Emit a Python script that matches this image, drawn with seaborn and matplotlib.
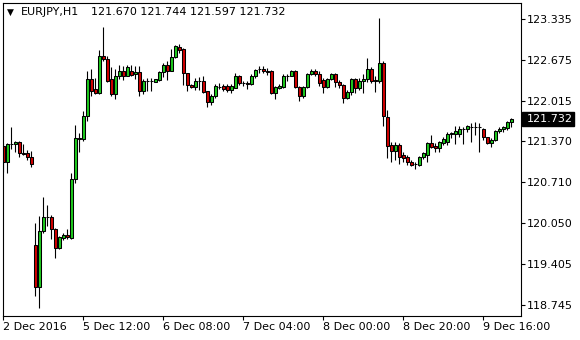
import numpy as np
import pandas as pd
import matplotlib
matplotlib.use("Agg")
import matplotlib.pyplot as plt
import seaborn as sns
from matplotlib.patches import Rectangle
from matplotlib.transforms import blended_transform_factory

# ---------------- data (EURJPY, H1) ----------------
symbol = "EURJPY,H1"
header_values = "121.670 121.744 121.597 121.732"

opens = [121.29, 121.04, 121.32, 121.32, 121.35, 121.18, 121.18, 121.12,
         119.70, 119.03, 119.93, 120.16, 120.15, 119.96, 119.66, 119.81,
         119.87, 119.81, 120.77, 121.42, 121.41, 121.78, 122.36, 122.21,
         122.14, 122.74, 122.69, 122.36, 122.12, 122.41, 122.50, 122.42,
         122.50, 122.44, 122.48, 122.17, 122.335, 122.335, 122.32, 122.35,
         122.48, 122.59, 122.50, 122.72, 122.88, 122.85, 122.46, 122.27,
         122.24, 122.335, 122.34, 122.17, 122.00, 122.10, 122.245, 122.26,
         122.25, 122.19, 122.23, 122.42, 122.30, 122.30, 122.29, 122.42,
         122.52, 122.53, 122.50, 122.49, 122.15, 122.23, 122.24, 122.42,
         122.42, 122.50, 122.24, 122.09, 122.24, 122.45, 122.50, 122.44,
         122.35, 122.24, 122.37, 122.44, 122.32, 122.27, 122.07, 122.16,
         122.36, 122.23, 122.34, 122.37, 122.52, 122.345, 122.34, 122.62,
         121.76, 121.31, 121.22, 121.31, 121.14, 121.11, 121.03, 121.00,
         120.99, 121.11, 121.14, 121.34, 121.30, 121.26, 121.34, 121.35,
         121.48, 121.48, 121.49, 121.565, 121.56, 121.59, 121.59, 121.59,
         121.57, 121.43, 121.34, 121.39, 121.53, 121.56, 121.58, 121.670]
highs = [121.34, 121.34, 121.60, 121.38, 121.38, 121.32, 121.23, 121.21,
         120.06, 120.17, 120.48, 120.35, 120.19, 119.97, 119.84, 119.89,
         119.96, 120.86, 121.63, 121.50, 121.86, 122.49, 122.53, 122.38,
         122.83, 123.21, 122.73, 122.56, 122.52, 122.60, 122.58, 122.59,
         122.59, 122.58, 122.58, 122.36, 122.39, 122.39, 122.37, 122.50,
         122.63, 122.65, 122.85, 122.91, 122.93, 122.86, 122.47, 122.29,
         122.39, 122.40, 122.41, 122.18, 122.12, 122.28, 122.30, 122.28,
         122.28, 122.28, 122.46, 122.43, 122.34, 122.33, 122.44, 122.53,
         122.58, 122.58, 122.55, 122.51, 122.26, 122.28, 122.44, 122.44,
         122.51, 122.51, 122.25, 122.26, 122.46, 122.52, 122.52, 122.50,
         122.38, 122.39, 122.46, 122.46, 122.35, 122.29, 122.19, 122.38,
         122.39, 122.38, 122.44, 122.70, 122.56, 122.41, 123.34, 122.65,
         121.87, 121.35, 121.35, 121.34, 121.20, 121.14, 121.07, 121.04,
         121.13, 121.19, 121.35, 121.47, 121.34, 121.37, 121.44, 121.51,
         121.51, 121.61, 121.61, 121.59, 121.63, 121.66, 121.67, 121.66,
         121.58, 121.44, 121.42, 121.55, 121.60, 121.61, 121.69, 121.744]
lows = [120.88, 120.86, 121.25, 121.20, 121.12, 121.14, 121.07, 120.96,
        118.89, 118.70, 119.89, 120.01, 119.80, 119.49, 119.64, 119.78,
        119.80, 119.80, 120.70, 121.19, 121.38, 121.70, 122.09, 122.13,
        122.13, 122.66, 122.32, 122.09, 122.04, 122.36, 122.35, 122.41,
        122.42, 122.36, 122.10, 122.12, 122.18, 122.18, 122.32, 122.34,
        122.40, 122.35, 122.49, 122.70, 122.78, 122.27, 122.17, 122.22,
        122.19, 122.19, 122.14, 121.92, 121.95, 122.07, 122.21, 122.18,
        122.16, 122.14, 122.22, 122.27, 122.26, 122.20, 122.27, 122.39,
        122.46, 122.46, 122.43, 122.12, 122.04, 122.20, 122.22, 122.34,
        122.41, 122.22, 122.02, 122.07, 122.22, 122.43, 122.42, 122.26,
        122.15, 122.22, 122.35, 122.24, 122.22, 121.99, 122.04, 122.11,
        122.14, 122.19, 122.15, 122.32, 122.30, 122.16, 122.30, 121.62,
        121.10, 121.04, 121.07, 121.01, 121.04, 120.99, 120.97, 120.92,
        120.97, 121.08, 121.03, 121.26, 121.20, 121.20, 121.31, 121.31,
        121.42, 121.32, 121.44, 121.32, 121.51, 121.36, 121.47, 121.19,
        121.39, 121.32, 121.27, 121.38, 121.50, 121.51, 121.55, 121.597]
closes = [121.04, 121.32, 121.33, 121.36, 121.18, 121.17, 121.11, 121.00,
          119.03, 119.93, 120.16, 120.15, 119.96, 119.66, 119.83, 119.86,
          119.83, 120.77, 121.42, 121.41, 121.78, 122.36, 122.18, 122.14,
          122.74, 122.69, 122.34, 122.12, 122.41, 122.50, 122.42, 122.56,
          122.43, 122.48, 122.17, 122.34, 122.335, 122.335, 122.36, 122.48,
          122.59, 122.50, 122.72, 122.89, 122.83, 122.46, 122.27, 122.24,
          122.34, 122.335, 122.16, 122.00, 122.10, 122.26, 122.245, 122.20,
          122.19, 122.25, 122.42, 122.30, 122.30, 122.28, 122.42, 122.51,
          122.52, 122.49, 122.48, 122.15, 122.24, 122.26, 122.42, 122.42,
          122.50, 122.24, 122.09, 122.24, 122.45, 122.50, 122.45, 122.30,
          122.24, 122.37, 122.44, 122.32, 122.27, 122.07, 122.16, 122.36,
          122.23, 122.34, 122.37, 122.52, 122.34, 122.34, 122.62, 121.78,
          121.30, 121.22, 121.31, 121.12, 121.10, 121.03, 120.99, 121.01,
          121.11, 121.18, 121.34, 121.28, 121.26, 121.35, 121.40, 121.49,
          121.50, 121.53, 121.57, 121.56, 121.61, 121.595, 121.595, 121.595,
          121.43, 121.34, 121.39, 121.53, 121.56, 121.59, 121.68, 121.732]

x_tick_bars = [0, 20, 40, 60, 80, 100, 120]
x_tick_labels = ["2 Dec 2016", "5 Dec 12:00", "6 Dec 08:00", "7 Dec 04:00",
                 "8 Dec 00:00", "8 Dec 20:00", "9 Dec 16:00"]
y_ticks = [123.335, 122.675, 122.015, 121.370, 120.710, 120.050, 119.405, 118.745]
last_price = 121.732

# ---------------- style ----------------
sns.set_theme(style="white")
plt.rcParams['font.family'] = ['DejaVu Sans']
plt.rcParams['font.size'] = 8

df = pd.DataFrame(dict(open=opens, high=highs, low=lows, close=closes))
df["bar"] = np.arange(len(df))
df["lo_body"] = df[["open", "close"]].min(axis=1)
df["body"] = (df["close"] - df["open"]).abs()
df["kind"] = np.where(df["close"] > df["open"] + 1e-9, "up",
                      np.where(df["close"] < df["open"] - 1e-9, "down", "flat"))
colors = {"up": "#1ec81e", "down": "#d00000", "flat": "black"}

W, H = 580, 340
fig = plt.figure(figsize=(W / 100, H / 100), dpi=100)
fig.patch.set_facecolor("white")
ax = fig.add_axes([2.7 / W, 24 / H, 518 / W, 313.3 / H])
ax.set_facecolor("white")

# wicks
ax.vlines(df["bar"], df["low"], df["high"], color="black", lw=0.8, zorder=1)
# bodies
for kind, sub in df.groupby("kind"):
    ax.bar(sub["bar"], sub["body"], bottom=sub["lo_body"], width=0.78,
           color=colors[kind], edgecolor="black", linewidth=0.75, zorder=2)

ax.set_xlim(-0.15, 129.35)
ax.set_ylim(118.564, 123.592)

# axes / ticks
for s in ax.spines.values():
    s.set_color("black")
    s.set_linewidth(0.8)
ax.yaxis.tick_right()
ax.set_yticks(y_ticks)
ax.set_yticklabels([f"{v:.3f}" for v in y_ticks])
ax.tick_params(axis="y", which="both", right=True, left=False, direction="out",
               length=3, width=0.8, pad=1.5, labelsize=8, colors="black")
ax.set_xticks(x_tick_bars)
ax.set_xticklabels(x_tick_labels, ha="left")
ax.tick_params(axis="x", which="both", bottom=True, direction="out",
               length=3, width=0.8, pad=1.0, labelsize=8, colors="black")
ax.set_xlabel("")
ax.set_ylabel("")
ax.grid(False)

# current price marker on the right scale
tr = blended_transform_factory(ax.transAxes, ax.transData)
box_h = 14 / 62.31
ax.add_patch(Rectangle((1.0025, last_price - box_h / 2), 52 / 518, box_h,
                       transform=tr, facecolor="black", edgecolor="black",
                       clip_on=False, zorder=5))
ax.text(1.0127, last_price, f"{last_price:.3f}", transform=tr, ha="left",
        va="center", color="white", fontsize=8, clip_on=False, zorder=6)

# header
fig.text(10.7 / W, 1 - 12.5 / H, "▼", ha="center", va="center", fontsize=6.5,
         color="black")
fig.text(21.3 / W, 1 - 12.3 / H, symbol, ha="left", va="center", fontsize=8,
         color="black")
fig.text(90.7 / W, 1 - 12.3 / H, header_values, ha="left", va="center",
         fontsize=8, color="black")

fig.savefig("out.png", dpi=100, facecolor="white")
